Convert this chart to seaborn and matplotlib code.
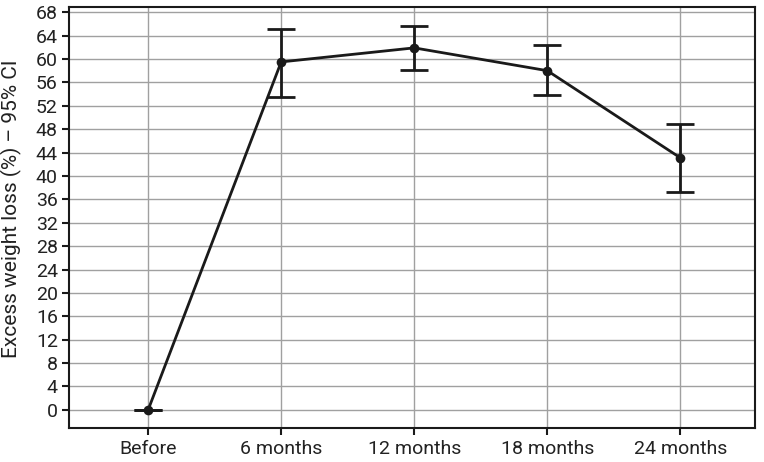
import numpy as np
import pandas as pd
import matplotlib
matplotlib.use("Agg")
import matplotlib.pyplot as plt
import seaborn as sns

periods = ["Before", "6 months", "12 months", "18 months", "24 months"]
ewl_mean = [0.0, 59.5, 61.9, 58.0, 43.1]
ci_lower = [0.0, 53.5, 58.2, 53.8, 37.3]
ci_upper = [0.0, 65.2, 65.6, 62.4, 48.8]

sns.set_style("ticks")
plt.rcParams["font.family"] = ["Roboto", "DejaVu Sans"]

df = pd.DataFrame({"x": np.arange(len(periods)), "ewl": ewl_mean})
yerr = [np.array(ewl_mean) - np.array(ci_lower), np.array(ci_upper) - np.array(ewl_mean)]

fig = plt.figure(figsize=(7.64, 4.62), dpi=100)
ax = fig.add_axes([0.0903, 0.0736, 0.8977, 0.9114])

ax.errorbar(df["x"], df["ewl"], yerr=yerr, fmt="none", ecolor="#1a1a1a",
            elinewidth=2, capsize=10, capthick=2, zorder=3)
sns.lineplot(data=df, x="x", y="ewl", ax=ax, color="#1a1a1a", linewidth=2,
             marker="o", markersize=7, markeredgewidth=0, zorder=4)

ax.set_xlim(-0.595, 4.56)
ax.set_ylim(-3.1, 68.9)
ax.set_yticks(np.arange(0, 69, 4))
ax.set_xticks(df["x"])
ax.set_xticklabels(periods)
ax.grid(True, color="#a0a0a0", linewidth=1)
ax.set_axisbelow(True)
for s in ax.spines.values():
    s.set_visible(True)
    s.set_linewidth(1.5)
    s.set_color("#1a1a1a")
ax.tick_params(axis="both", labelsize=14, length=5, width=1.5, color="#1a1a1a", labelcolor="#222222")
ax.tick_params(axis="x", pad=4)
ax.tick_params(axis="y", pad=3)
ax.set_xlabel("")
ax.set_ylabel("Excess weight loss (%) \u2013 95% CI", fontsize=15, color="#222222")
ax.yaxis.set_label_coords(-0.068, 0.52)

fig.savefig("out.png", dpi=100)
